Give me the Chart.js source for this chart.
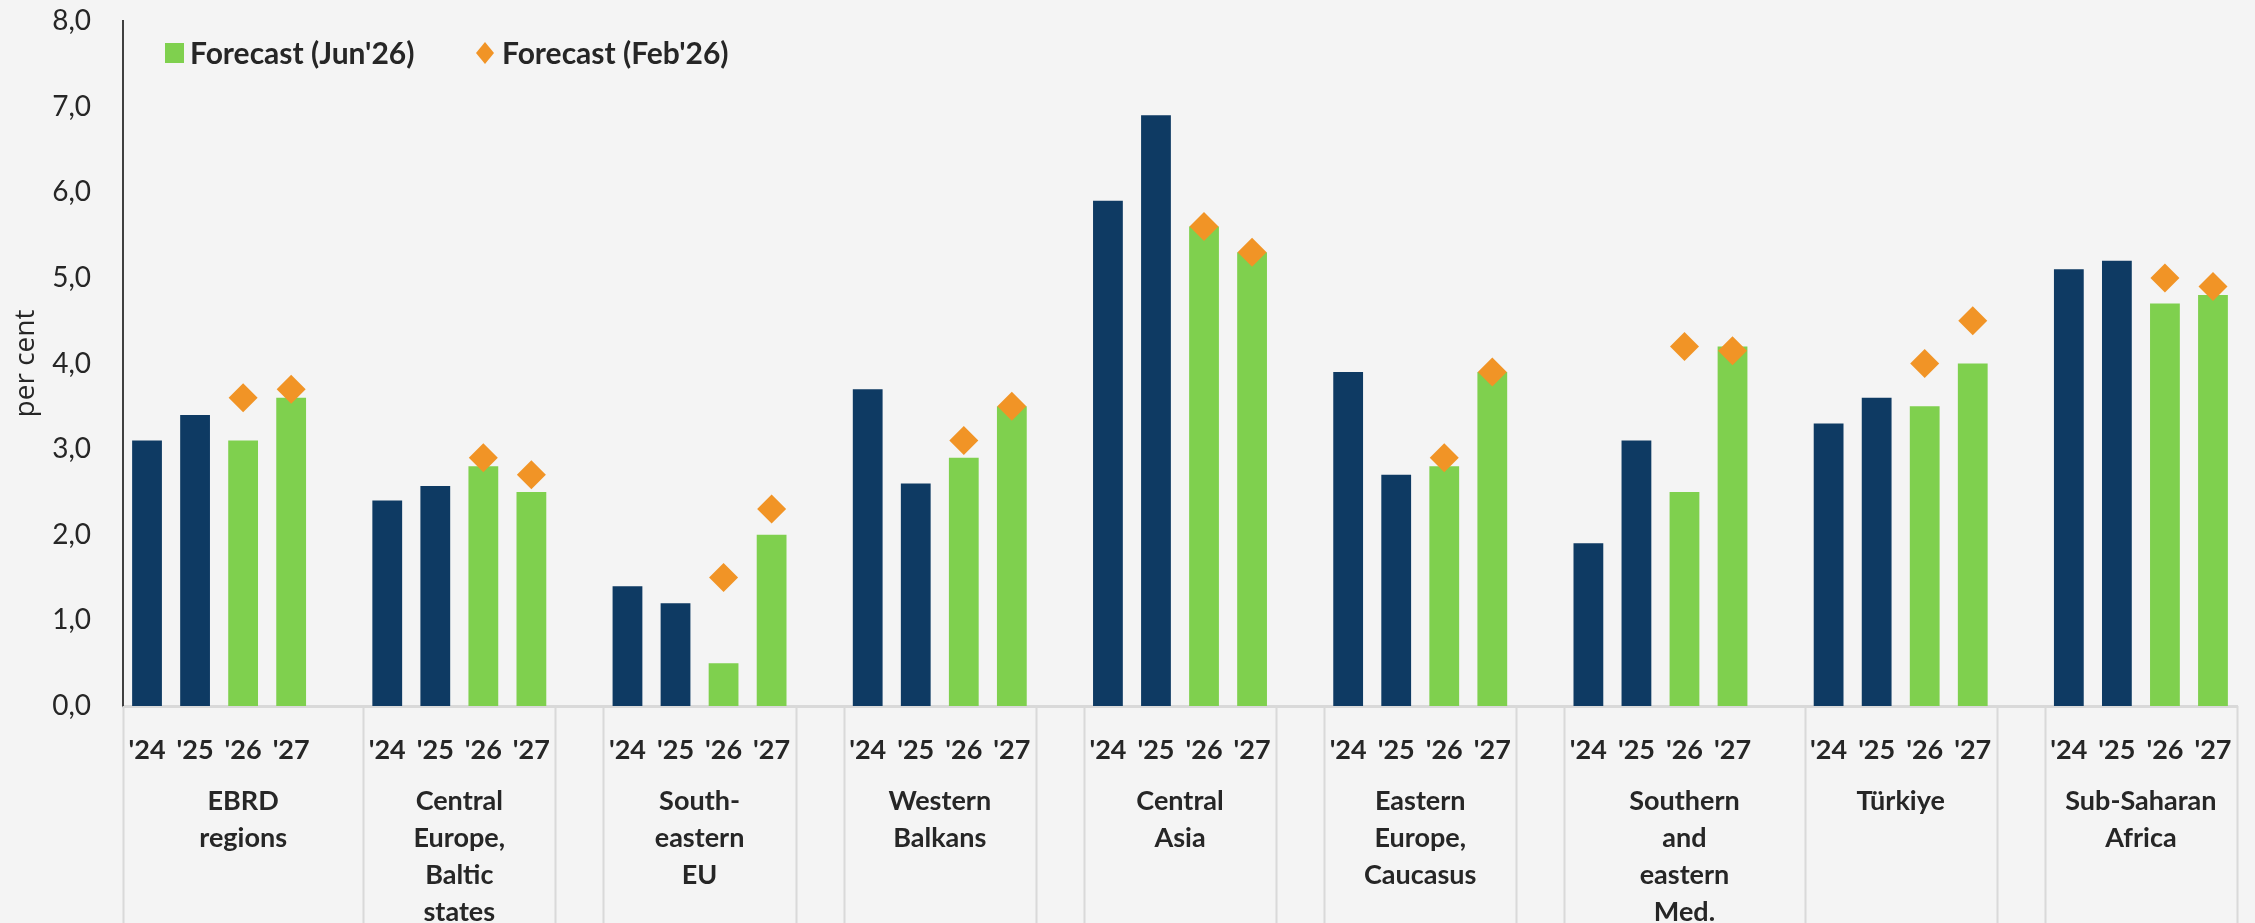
<!DOCTYPE html>
<html>
<head>
<meta charset="utf-8">
<script src="https://cdn.jsdelivr.net/npm/chart.js@4.4.1/dist/chart.umd.min.js"></script>
<style>
  html, body { margin: 0; padding: 0; background: #f4f4f4; }
  canvas { display: block; }
</style>
</head>
<body>
<canvas id="growthChart" width="2255" height="923"></canvas>
<script>
// regions and their two-level axis labels
const regions = [
    ['EBRD', 'regions'],
    ['Central', 'Europe,', 'Baltic', 'states'],
    ['South-', 'eastern', 'EU'],
    ['Western', 'Balkans'],
    ['Central', 'Asia'],
    ['Eastern', 'Europe,', 'Caucasus'],
    ['Southern', 'and', 'eastern', 'Med.'],
    ['Türkiye'],
    ['Sub-Saharan', 'Africa']
];
const years = ["'24", "'25", "'26", "'27"];

// outturn
const y2024 = [3.1, 2.4, 1.4, 3.7, 5.9, 3.9, 1.9, 3.3, 5.1];
const y2025 = [3.4, 2.57, 1.2, 2.6, 6.9, 2.7, 3.1, 3.6, 5.2];
// Forecast (Jun'26)
const jun2026 = [3.1, 2.8, 0.5, 2.9, 5.6, 2.8, 2.5, 3.5, 4.7];
const jun2027 = [3.6, 2.5, 2.0, 3.5, 5.3, 3.9, 4.2, 4.0, 4.8];
// Forecast (Feb'26)
const feb2026 = [3.6, 2.9, 1.5, 3.1, 5.6, 2.9, 4.2, 4.0, 5.0];
const feb2027 = [3.7, 2.7, 2.3, 3.5, 5.3, 3.9, 4.15, 4.5, 4.9];

const yTicks = [0, 1, 2, 3, 4, 5, 6, 7, 8];

const NAVY = '#0e3a63';
const GREEN = '#7fd04e';
const ORANGE = '#f19426';
const TEXT = '#262626';
const LINE = '#d9d9d9';
const FONT = 'Lato, "Open Sans", sans-serif';

// 4 slots per region + an empty spacer slot between regions
const labels = [];
const actual = [];
const fcJun = [];
const fcFeb = [];
regions.forEach(function (r, k) {
    labels.push(years[0], years[1], years[2], years[3]);
    actual.push(y2024[k], y2025[k], null, null);
    fcJun.push(null, null, jun2026[k], jun2027[k]);
    fcFeb.push(null, null, feb2026[k], feb2027[k]);
    if (k < regions.length - 1) {
        labels.push('');
        actual.push(null);
        fcJun.push(null);
        fcFeb.push(null);
    }
});

// slot edges where the category axis draws its separators
const cellEdges = [0, 5, 9, 10, 14, 15, 19, 20, 24, 25, 29, 30, 35, 39, 40, 44];

const groupAxis = {
    id: 'groupAxis',
    afterDraw(chart) {
        const ctx = chart.ctx;
        const x = chart.scales.x;
        const top = chart.chartArea.bottom;
        ctx.save();
        ctx.strokeStyle = LINE;
        ctx.lineWidth = 2;
        cellEdges.forEach(function (e) {
            const px = Math.round(x.getPixelForValue(e - 0.5)) + 0.5;
            ctx.beginPath();
            ctx.moveTo(px, top);
            ctx.lineTo(px, chart.height);
            ctx.stroke();
        });
        ctx.fillStyle = TEXT;
        ctx.font = 'bold 27px ' + FONT;
        ctx.textAlign = 'center';
        ctx.textBaseline = 'middle';
        regions.forEach(function (lines, k) {
            const s = k * 5;
            let a = 0, b = 44;
            cellEdges.forEach(function (e) {
                if (e <= s && e > a) a = e;
                if (e >= s + 4 && e < b) b = e;
            });
            const cx = x.getPixelForValue((a + b) / 2 - 0.5);
            lines.forEach(function (t, i) {
                ctx.fillText(t, cx, top + 95 + i * 37);
            });
        });
        ctx.restore();
    }
};

const legendBox = {
    id: 'legendBox',
    afterDraw(chart) {
        const ctx = chart.ctx;
        const ds = chart.data.datasets;
        ctx.save();
        ctx.font = 'bold 30px ' + FONT;
        ctx.textBaseline = 'middle';
        ctx.fillStyle = ds[1].backgroundColor;
        ctx.fillRect(165, 43, 19, 20);
        ctx.fillStyle = TEXT;
        ctx.fillText(ds[1].label, 190, 54);
        ctx.fillStyle = ds[2].pointBackgroundColor;
        ctx.beginPath();
        ctx.moveTo(485, 42);
        ctx.lineTo(494, 53);
        ctx.lineTo(485, 64);
        ctx.lineTo(476, 53);
        ctx.closePath();
        ctx.fill();
        ctx.fillStyle = TEXT;
        ctx.fillText(ds[2].label, 502, 54);
        ctx.restore();
    }
};

const ctx = document.getElementById('growthChart').getContext('2d');
const growthChart = new Chart(ctx, {
    type: 'bar',
    data: {
        labels: labels,
        datasets: [{
            label: 'Outturn',
            data: actual,
            backgroundColor: NAVY,
            barPercentage: 0.62,
            categoryPercentage: 1,
            grouped: false,
            order: 2
        }, {
            label: "Forecast (Jun'26)",
            data: fcJun,
            backgroundColor: GREEN,
            barPercentage: 0.62,
            categoryPercentage: 1,
            grouped: false,
            order: 1
        }, {
            type: 'line',
            label: "Forecast (Feb'26)",
            data: fcFeb,
            showLine: false,
            pointStyle: 'rectRot',
            pointRadius: 14.5,
            pointBackgroundColor: ORANGE,
            pointBorderWidth: 0,
            order: 0
        }]
    },
    options: {
        responsive: false,
        animation: false,
        devicePixelRatio: 1,
        layout: { padding: { top: 0, right: 18, left: 0, bottom: 0 } },
        plugins: {
            legend: { display: false },
            tooltip: { enabled: false }
        },
        scales: {
            x: {
                grid: { display: false },
                border: { display: true, color: LINE, width: 3 },
                ticks: {
                    autoSkip: false,
                    maxRotation: 0,
                    padding: 20,
                    color: TEXT,
                    font: { family: FONT, size: 27, weight: 'bold' }
                },
                afterFit(scale) { scale.height = 217; }
            },
            y: {
                min: 0,
                max: 8,
                afterBuildTicks(scale) {
                    scale.ticks = yTicks.map(function (v) { return { value: v }; });
                },
                grid: { display: false },
                border: { display: true, color: '#404040', width: 2 },
                ticks: {
                    padding: 24,
                    color: TEXT,
                    font: { family: FONT, size: 28 },
                    callback: function (v) { return v.toFixed(1).replace('.', ','); }
                },
                title: {
                    display: true,
                    text: 'per cent',
                    color: TEXT,
                    padding: { top: 9, bottom: 0 },
                    font: { family: '"Open Sans", sans-serif', size: 28 }
                },
                afterFit(scale) {
                    scale.width = 123;
                    scale.paddingTop = 21;
                }
            }
        }
    },
    plugins: [groupAxis, legendBox]
});
</script>
</body>
</html>
